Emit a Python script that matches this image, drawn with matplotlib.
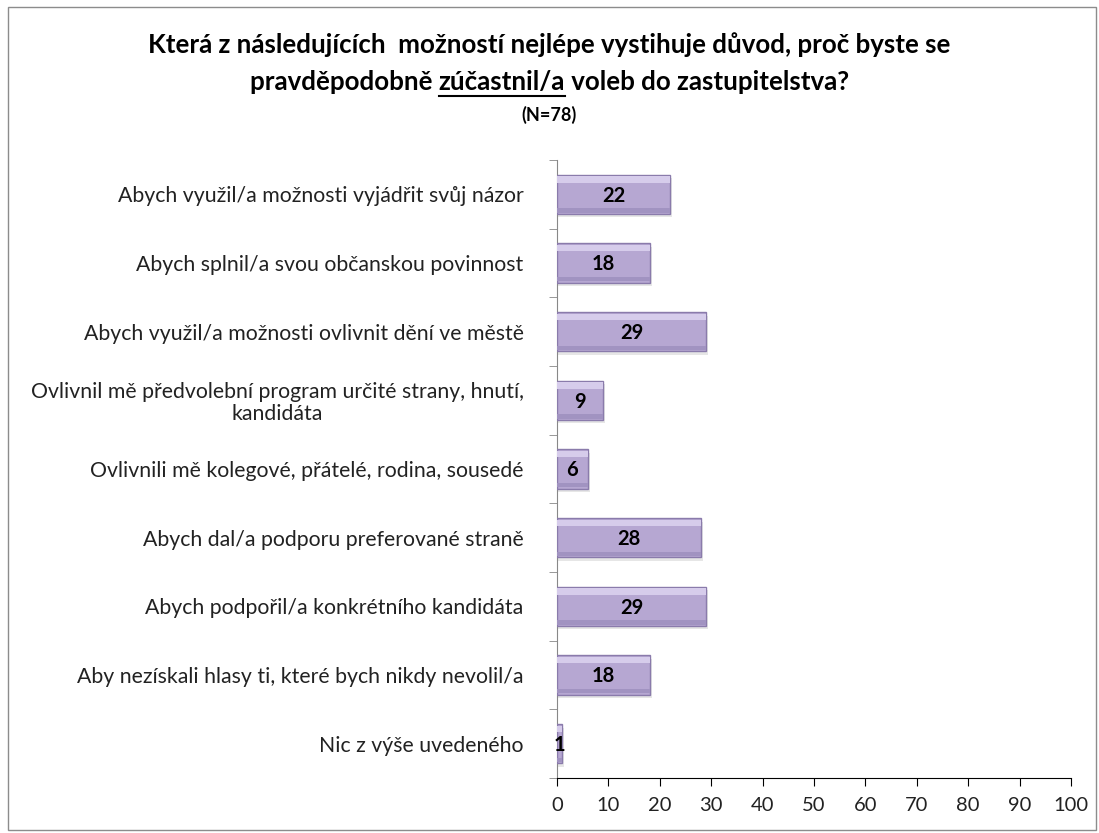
import numpy as np
import matplotlib
matplotlib.use("Agg")
import matplotlib.pyplot as plt
from matplotlib.patches import Rectangle

categories = [
    "Abych využil/a možnosti vyjádřit svůj názor",
    "Abych splnil/a svou občanskou povinnost",
    "Abych využil/a možnosti ovlivnit dění ve městě",
    "Ovlivnil mě předvolební program určité strany, hnutí,\nkandidáta",
    "Ovlivnili mě kolegové, přátelé, rodina, sousedé",
    "Abych dal/a podporu preferované straně",
    "Abych podpořil/a konkrétního kandidáta",
    "Aby nezískali hlasy ti, které bych nikdy nevolil/a",
    "Nic z výše uvedeného",
]
values = [22, 18, 29, 9, 6, 28, 29, 18, 1]
xticks = [0, 10, 20, 30, 40, 50, 60, 70, 80, 90, 100]

plt.rcParams['font.family'] = ['Lato', 'DejaVu Sans']

fig = plt.figure(figsize=(10.99, 8.33), dpi=100)
fig.patch.set_facecolor('white')
fig.add_artist(Rectangle((0.007, 0.004), 0.99, 0.988, transform=fig.transFigure,
                         fill=False, edgecolor='#8c8c8c', linewidth=1))

ax = fig.add_axes([557/1099, 1 - 778/833, (1071-557)/1099, (778-160)/833])

n = len(categories)
y = np.arange(n)
# drop shadow
ax.barh(y + 0.05, np.array(values) + 0.4, height=0.57, color='#e6e6e6', linewidth=0, zorder=2)
ax.barh(y, values, height=0.57, color='#b6a7d2', edgecolor='#8a7bab', linewidth=1, zorder=3)
# lighter top and darker bottom strips to hint at the bevel
ax.barh(y - 0.215, values, height=0.09, color='#d6cceb', linewidth=0, zorder=4)
ax.barh(y + 0.235, values, height=0.06, color='#a193c1', linewidth=0, zorder=4)

for yi, v in zip(y, values):
    ax.text(v / 2, yi + 0.02, str(v), ha='center', va='center',
            fontsize=14.5, fontweight='bold', color='black', zorder=5)

ax.set_ylim(n - 0.5, -0.5)
ax.set_xlim(0, 100)
ax.set_xticks(xticks)
ax.set_xticklabels([str(t) for t in xticks], fontsize=14.5, color='#222222')
ax.set_yticks(y)
ax.set_yticklabels(categories, fontsize=15.3, color='#222222')
ax.tick_params(axis='y', length=0, pad=24)
ax.set_yticks(np.arange(-0.5, n, 1), minor=True)
ax.tick_params(axis='y', which='minor', length=6, color='#888888', direction='out')
ax.tick_params(axis='x', length=6, color='black', direction='out', pad=8)
for lbl in ax.get_yticklabels():
    lbl.set_multialignment('center')
    lbl.set_linespacing(1.1)

for s in ['top', 'right']:
    ax.spines[s].set_visible(False)
ax.spines['left'].set_color('#888888')
ax.spines['bottom'].set_color('black')

# title
fs = 18.6
fig.text(0.5, 1 - 45/833, "Která z následujících  možností nejlépe vystihuje důvod, proč byste se",
         ha='center', va='center', fontsize=fs, fontweight='bold')
parts = ["pravděpodobně ", "zúčastnil/a", " voleb do zastupitelstva?"]
fig.canvas.draw()
r = fig.canvas.get_renderer()
ty = 1 - 82/833
widths = []
tmp = []
for p in parts:
    t = fig.text(0, ty, p, fontsize=fs, fontweight='bold', va='center')
    tmp.append(t)
    widths.append(t.get_window_extent(r).width / fig.bbox.width)
total = sum(widths)
x0 = 0.5 - total / 2
for t, w in zip(tmp, widths):
    t.set_x(x0)
    if t.get_text() == "zúčastnil/a":
        fig.add_artist(plt.Line2D([x0, x0 + w], [ty - 14/833, ty - 14/833],
                                  transform=fig.transFigure, color='black', lw=1.5))
    x0 += w
fig.text(0.5, 1 - 115/833, "(N=78)", ha='center', va='center', fontsize=13, fontweight='bold')

fig.savefig("out.png", dpi=100)
